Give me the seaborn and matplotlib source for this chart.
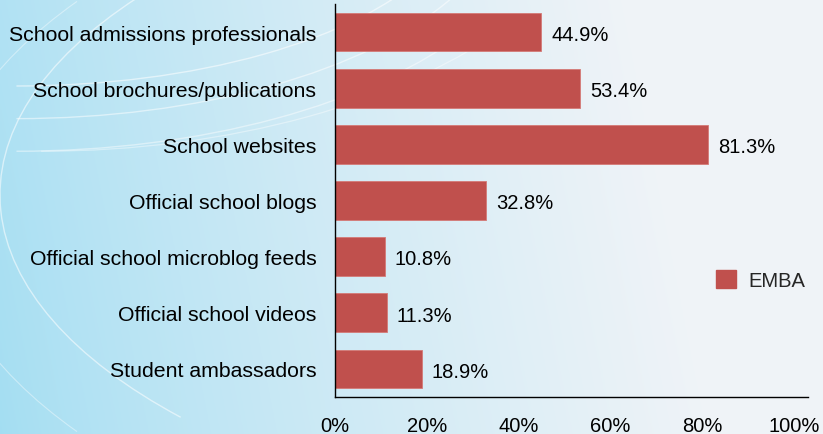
import numpy as np
import pandas as pd
import matplotlib
matplotlib.use("Agg")
import matplotlib.pyplot as plt
from matplotlib.patches import Arc, Patch
import seaborn as sns

# Survey data: share of EMBA respondents using each information source
categories = [
    "School admissions professionals",
    "School brochures/publications",
    "School websites",
    "Official school blogs",
    "Official school microblog feeds",
    "Official school videos",
    "Student ambassadors",
]
emba_values = [44.9, 53.4, 81.3, 32.8, 10.8, 11.3, 18.9]
x_ticks = [0, 20, 40, 60, 80, 100]
x_tick_labels = ["0%", "20%", "40%", "60%", "80%", "100%"]
series_name = "EMBA"

df = pd.DataFrame({"source": categories, "value": emba_values})

sns.set_theme(style="white")
plt.rcParams["font.family"] = ["Liberation Sans", "DejaVu Sans"]

W, H = 823, 435
fig = plt.figure(figsize=(W / 100, H / 100), dpi=100)

# Soft blue-to-white backdrop with a few light arcs
bg = fig.add_axes([0, 0, 1, 1], zorder=0)
xx, yy = np.meshgrid(np.linspace(0, 1, 400), np.linspace(0, 1, 220))
t = np.clip(xx * 1.15 + (1 - yy) * 0.12, 0, 1) ** 0.8
left = np.array([0.64, 0.87, 0.95])
right = np.array([0.94, 0.955, 0.97])
img = left[None, None, :] * (1 - t[..., None]) + right[None, None, :] * t[..., None]
bg.imshow(img, extent=[0, 1, 0, 1], aspect="auto", origin="upper")
for cx, cy, w, h, a1, a2, lw, al in [
    (0.02, 1.25, 1.10, 0.90, 270, 340, 1.0, 0.55),
    (0.02, 1.25, 1.20, 1.05, 270, 335, 1.0, 0.50),
    (0.02, 1.25, 1.30, 1.20, 270, 330, 1.0, 0.45),
    (0.05, 1.35, 1.40, 1.40, 270, 325, 0.9, 0.40),
    (0.95, 0.55, 1.90, 1.60, 150, 215, 1.0, 0.55),
    (0.95, 0.50, 2.05, 1.80, 150, 210, 0.8, 0.40),
]:
    bg.add_patch(Arc((cx, cy), w, h, theta1=a1, theta2=a2, color="white",
                     lw=lw, alpha=al))
bg.set_xlim(0, 1)
bg.set_ylim(0, 1)
bg.axis("off")

ax = fig.add_axes([335 / W, 1 - 398 / H, (808 - 335) / W, (398 - 5) / H], zorder=1)
ax.patch.set_alpha(0)

bar_color = "#C0504D"
sns.barplot(data=df, y="source", x="value", orient="h", color=bar_color,
            width=0.69, saturation=1, edgecolor="#D47A77", linewidth=0.6, ax=ax)

for i, v in enumerate(emba_values):
    ax.text(v + 2.2, i + 0.04, f"{v:.1f}%", va="center", ha="left",
            fontsize=14.5, color="black")

ax.set_xlim(0, 103)
ax.set_ylim(len(categories) - 0.5, -0.5)
ax.set_xticks(x_ticks)
ax.set_xticklabels(x_tick_labels, fontsize=14.5)
ax.set_xlabel("")
ax.set_ylabel("")
ax.tick_params(axis="y", labelsize=15.3, length=0, pad=13.5)
ax.tick_params(axis="x", length=0, pad=14)
for lbl in ax.get_yticklabels():
    lbl.set_color("black")
for lbl in ax.get_xticklabels():
    lbl.set_color("black")

for side in ["top", "right"]:
    ax.spines[side].set_visible(False)
for side in ["left", "bottom"]:
    ax.spines[side].set_color("black")
    ax.spines[side].set_linewidth(1.0)

handle = Patch(facecolor=bar_color, edgecolor=bar_color)
ax.legend([handle], [series_name], loc="center left",
          bbox_to_anchor=(0.805, 0.298), frameon=False, fontsize=14.5,
          handlelength=1.0, handleheight=1.0, handletextpad=0.6,
          borderpad=0, borderaxespad=0)

fig.savefig("out.png", dpi=100)
